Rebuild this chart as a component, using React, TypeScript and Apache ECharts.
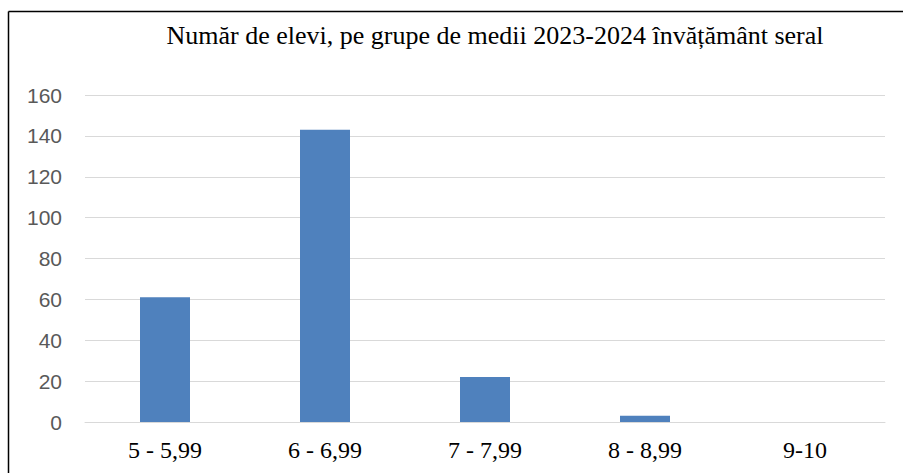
import React, { useEffect, useRef } from "react";
import * as echarts from "echarts";

const categories = ["5 - 5,99", "6 - 6,99", "7 - 7,99", "8 - 8,99", "9-10"];
const values = [61, 143, 22, 3, 0];
const titleText = "Număr de elevi, pe grupe de medii 2023-2024 învățământ seral";

const SERIF = "Liberation Serif";
const SANS = "Liberation Sans";

export default function App() {
  const ref = useRef<HTMLDivElement>(null);
  useEffect(() => {
    const chart = echarts.init(ref.current!, null, { renderer: "svg" });
    chart.setOption({
      animation: false,
      title: {
        text: titleText,
        left: 495,
        top: 22,
        textAlign: "center",
        padding: 0,
        textStyle: {
          fontFamily: SERIF,
          fontSize: 26,
          fontWeight: "normal",
          color: "#000",
        },
      },
      graphic: [
        { type: "line", shape: { x1: 8.5, y1: 11.5, x2: 903, y2: 11.5 }, style: { stroke: "#000", lineWidth: 1.5 } },
        { type: "line", shape: { x1: 8.5, y1: 11.5, x2: 8.5, y2: 473 }, style: { stroke: "#000", lineWidth: 1.5 } },
      ],
      grid: { left: 85, right: 18, top: 95, bottom: 51, containLabel: false },
      xAxis: {
        type: "category",
        data: categories,
        axisLine: { show: true, lineStyle: { color: "#d9d9d9", width: 1 } },
        axisTick: { show: false },
        axisLabel: {
          fontFamily: SERIF,
          fontSize: 24,
          color: "#000",
          margin: 16,
        },
      },
      yAxis: {
        type: "value",
        min: 0,
        max: 160,
        interval: 20,
        axisLine: { show: false },
        axisTick: { show: false },
        splitLine: { lineStyle: { color: "#d9d9d9", width: 1 } },
        axisLabel: {
          fontFamily: SANS,
          fontSize: 21,
          color: "#595959",
          margin: 23,
        },
      },
      series: [
        {
          type: "bar",
          data: values,
          barWidth: 50,
          itemStyle: { color: "#4f81bd" },
        },
      ],
    });
    return () => chart.dispose();
  }, []);
  return <div ref={ref} style={{ width: 903, height: 473, position: "absolute", left: 0, top: 0 }} />;
}
